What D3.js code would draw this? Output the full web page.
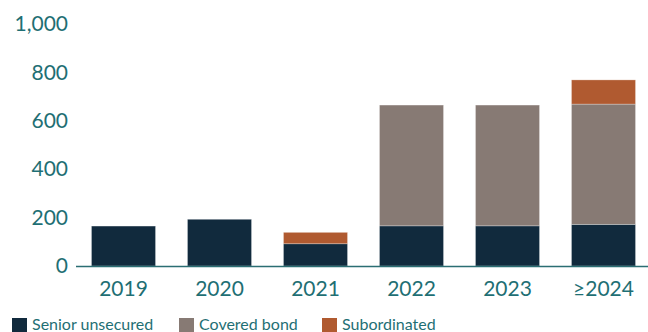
<!DOCTYPE html>
<html><head><meta charset="utf-8">
<script src="https://cdn.jsdelivr.net/npm/d3@7"></script>
<style>body{margin:0;background:#fff;}svg{display:block;}</style>
</head><body>
<script>
const categories = ["2019","2020","2021","2022","2023","\u22652024"];
const seniorUnsecured = [165, 193, 92, 166, 166, 172];
const coveredBond = [0, 0, 0, 499, 499, 497];
const subordinated = [0, 0, 47, 0, 0, 100];
const yTicks = [0, 200, 400, 600, 800, 1000];
const seriesNames = ["Senior unsecured","Covered bond","Subordinated"];
const seriesColors = ["#112a3d","#877a74","#b05a30"];

const W = 648, H = 332;
const font = "Lato, 'Open Sans', sans-serif";
const teal = "#1f6f74";
const svg = d3.select("body").append("svg").attr("width", W).attr("height", H);

const data = categories.map((c,i)=>({cat:c, s0:seniorUnsecured[i], s1:coveredBond[i], s2:subordinated[i]}));
const stack = d3.stack().keys(["s0","s1","s2"])(data);

const x = d3.scaleBand().domain(categories).range([75.5, 651.5]).paddingInner(0.333).paddingOuter(0.1665);
const y = d3.scaleLinear().domain([0,1000]).range([266, 24]);

const g = svg.append("g");
stack.forEach((layer, li) => {
  g.selectAll(null).data(layer.filter(d => d[1] - d[0] > 0)).join("rect")
    .attr("x", d => x(d.data.cat))
    .attr("width", x.bandwidth())
    .attr("y", d => y(d[1]))
    .attr("height", d => y(d[0]) - y(d[1]))
    .attr("fill", seriesColors[li])
    .attr("stroke", "rgba(255,255,255,0.35)").attr("stroke-width", 0.8);
});

// y axis labels
const ya = svg.append("g").attr("transform","translate(68,0)")
  .call(d3.axisLeft(y).tickValues(yTicks).tickSize(0).tickPadding(0).tickFormat(d3.format(",")));
ya.select(".domain").remove();
ya.selectAll("text").attr("fill", teal).style("font-family", font).style("font-size","21px");

// baseline
svg.append("line").attr("x1",76).attr("x2",648).attr("y1",266.5).attr("y2",266.5)
  .attr("stroke","#2b6e73").attr("stroke-width",1.5);

// x labels
const xa = svg.append("g").attr("transform","translate(0,266)")
  .call(d3.axisBottom(x).tickSize(0).tickPadding(15));
xa.select(".domain").remove();
xa.selectAll("text").attr("fill", teal).style("font-family", font).style("font-size","21px");

// legend
const legX = [12, 179, 322];
const leg = svg.append("g");
seriesNames.forEach((n,i)=>{
  leg.append("rect").attr("x",legX[i]).attr("y",318).attr("width",15).attr("height",15).attr("fill",seriesColors[i]);
  leg.append("text").attr("x",legX[i]+20).attr("y",330).text(n)
    .attr("fill", teal).style("font-family", font).style("font-size","16px");
});
</script>
</body></html>
